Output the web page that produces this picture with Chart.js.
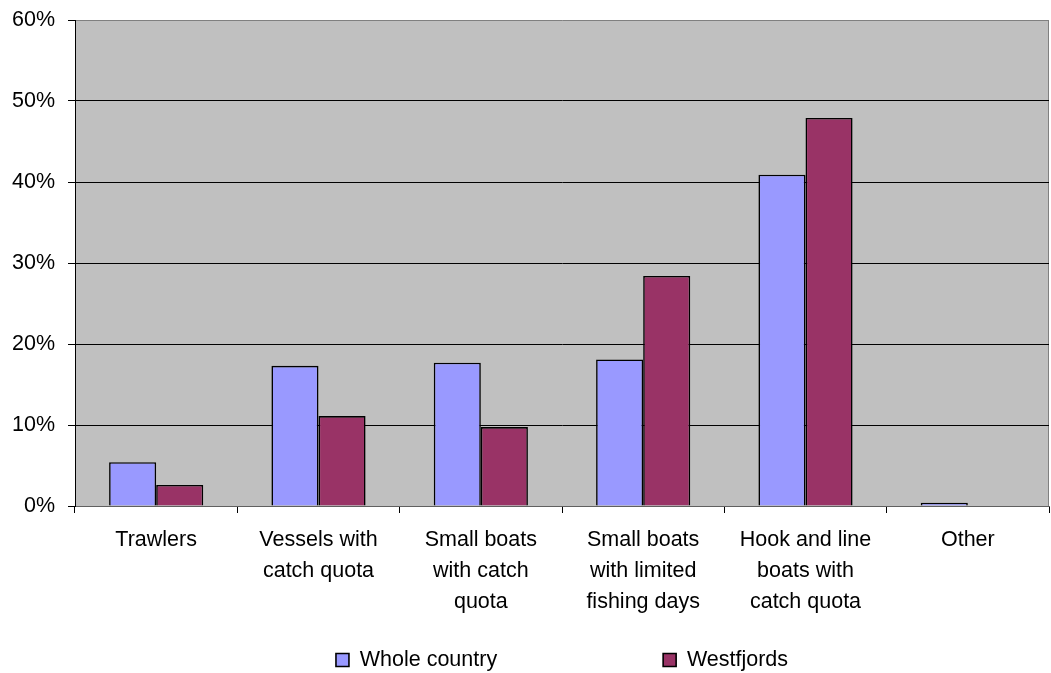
<!DOCTYPE html>
<html>
<head>
<meta charset="utf-8">
<script src="https://cdn.jsdelivr.net/npm/chart.js@4/dist/chart.umd.min.js"></script>
<style>
html,body{margin:0;padding:0;background:#fff;}
#wrap{width:1051px;height:673px;}
</style>
</head>
<body>
<div id="wrap"><canvas id="c" width="1051" height="673"></canvas></div>
<script>
const categories = [
  ["Trawlers"],
  ["Vessels with", "catch quota"],
  ["Small boats", "with catch", "quota"],
  ["Small boats", "with limited", "fishing days"],
  ["Hook and line", "boats with", "catch quota"],
  ["Other"]
];
const wholeCountry = [5.4, 17.3, 17.7, 18.1, 40.9, 0.4];
const westfjords = [2.6, 11.1, 9.75, 28.4, 47.9, 0];
const seriesNames = ["Whole country", "Westfjords"];
const yTicks = [0, 10, 20, 30, 40, 50, 60];

const FONT = "'Liberation Sans', Arial, sans-serif";
const FS = 21.5;
const LEGEND_PAD = 166;
const LEGEND_TEXT_Y = 660;

const plotBg = {
  id: 'plotBg',
  afterLayout(chart) {
    const l = chart.legend;
    if (l) {
      l.top = LEGEND_TEXT_Y - LEGEND_PAD - FS / 2;
      l.height = LEGEND_PAD + FS + 20;
      l.bottom = l.top + l.height;
    }
  },
  beforeDraw(chart) {
    const a = chart.chartArea, ctx = chart.ctx;
    ctx.save();
    ctx.fillStyle = '#C0C0C0';
    ctx.fillRect(a.left, a.top, a.right - a.left, a.bottom - a.top);
    ctx.strokeStyle = '#808080';
    ctx.lineWidth = 1;
    ctx.beginPath();
    ctx.moveTo(a.right - 0.5, a.top);
    ctx.lineTo(a.right - 0.5, a.bottom);
    ctx.stroke();
    ctx.restore();
  }
};

new Chart(document.getElementById('c'), {
  type: 'bar',
  data: {
    labels: categories,
    datasets: [
      { label: seriesNames[0], data: wholeCountry, backgroundColor: '#9999FF', borderColor: '#000000', borderWidth: 1.6 },
      { label: seriesNames[1], data: westfjords, backgroundColor: '#993366', borderColor: '#000000', borderWidth: 1.6 }
    ]
  },
  options: {
    responsive: false,
    animation: false,
    devicePixelRatio: 1,
    categoryPercentage: 0.58,
    barPercentage: 1.0,
    layout: { padding: { left: 0, right: 2, top: 20, bottom: 0 } },
    plugins: {
      legend: {
        position: 'bottom',
        fullSize: false,
        maxHeight: 1,
        labels: {
          font: { family: FONT, size: FS },
          color: '#000',
          boxWidth: 13,
          boxHeight: 13,
          padding: LEGEND_PAD
        }
      },
      tooltip: { enabled: false }
    },
    scales: {
      x: {
        offset: true,
        grid: { offset: true, drawOnChartArea: false, drawTicks: true, tickLength: 7, color: '#000' },
        border: { color: '#606060', width: 1 },
        ticks: { font: { family: FONT, size: FS, lineHeight: 1.44 }, color: '#000', padding: 12, maxRotation: 0, autoSkip: false },
        afterFit(scale) { scale.height = 166; scale.paddingLeft = 0; scale.paddingRight = 0; }
      },
      y: {
        min: 0, max: 60,
        afterBuildTicks(scale) { scale.ticks = yTicks.map(v => ({ value: v })); },
        grid: {
          color: ctx => (ctx.tick && ctx.tick.value === 60) ? '#808080' : '#000',
          tickColor: '#000',
          tickLength: 7,
          lineWidth: 1
        },
        border: { color: '#000', width: 1 },
        ticks: { font: { family: FONT, size: FS }, color: '#000', padding: 13, callback: v => v + '%' },
        afterFit(scale) { scale.width = 75; scale.paddingTop = 0; scale.paddingBottom = 0; }
      }
    }
  },
  plugins: [plotBg]
});
</script>
</body>
</html>
